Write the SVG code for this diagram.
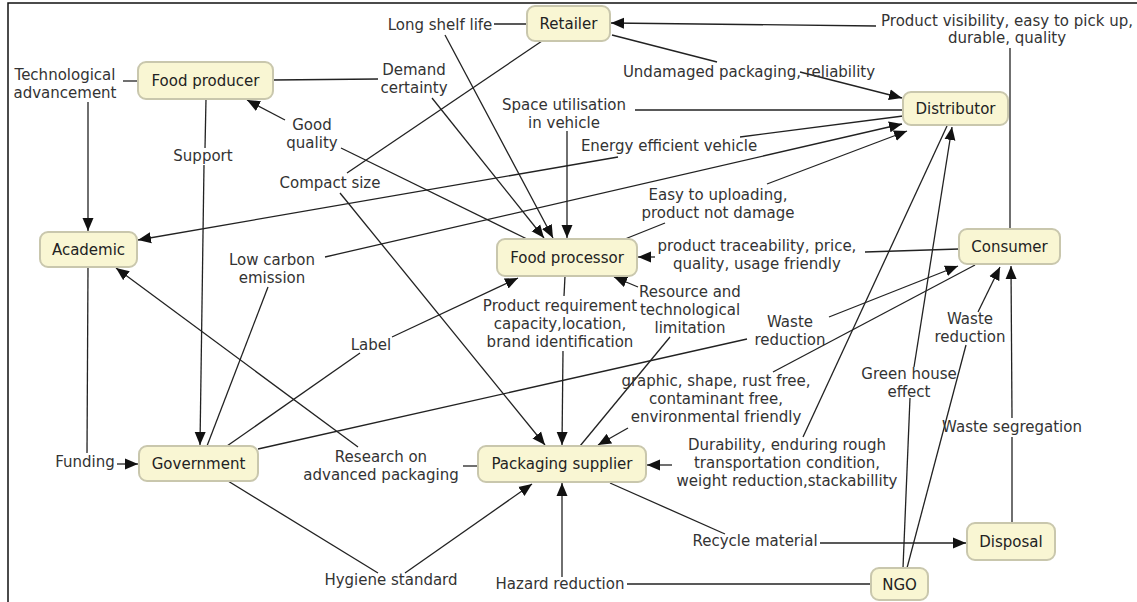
<svg xmlns="http://www.w3.org/2000/svg" width="1137" height="602" viewBox="0 0 1137 602">
<style>
.node rect{fill:#f9f6d3;stroke:#c9c7ad;stroke-width:2}
.node text{font-family:"DejaVu Sans",Verdana,sans-serif;font-size:15px;fill:#222;text-anchor:middle}
.lbl{font-family:"DejaVu Sans",Verdana,sans-serif;font-size:15px;fill:#333;text-anchor:middle}
#connectors line{stroke:#222;stroke-width:1.3;fill:none}
#connectors .a{marker-end:url(#arr)}
</style>
<defs>
<marker id="arr" markerUnits="userSpaceOnUse" markerWidth="14" markerHeight="12" refX="13" refY="6" orient="auto" viewBox="0 0 14 12">
<path d="M0,0.5 L13,6 L0,11.5 Z" fill="#111"/>
</marker>
</defs>
<rect x="0" y="0" width="1137" height="602" fill="#fff"/>
<path d="M8,602 V3 H1137" fill="none" stroke="#111" stroke-width="1.5"/>

<g id="connectors">
<line x1="273" y1="80" x2="378" y2="79"/>
<line class="a" x1="432" y1="98" x2="544" y2="238"/>
<line x1="527" y1="24" x2="494" y2="24"/>
<line class="a" x1="445" y1="35" x2="553" y2="238"/>
<line x1="542" y1="41" x2="347" y2="173"/>
<line class="a" x1="340" y1="193" x2="545" y2="445"/>
<line x1="527" y1="239" x2="341" y2="148"/>
<line class="a" x1="285" y1="120" x2="247" y2="100"/>
<line x1="903" y1="110" x2="635" y2="110"/>
<line class="a" x1="567" y1="131" x2="567" y2="238"/>
<line x1="903" y1="116" x2="740" y2="137"/>
<line class="a" x1="618" y1="157" x2="138" y2="240"/>
<line x1="207" y1="446" x2="268" y2="287"/>
<line class="a" x1="325" y1="257" x2="902" y2="124"/>
<line x1="138" y1="81" x2="123" y2="81"/>
<line class="a" x1="88" y1="102" x2="88" y2="231"/>
<line x1="206" y1="99" x2="205" y2="148"/>
<line class="a" x1="204" y1="165" x2="200" y2="445"/>
<line x1="88" y1="267" x2="87" y2="453"/>
<line class="a" x1="117" y1="464" x2="138" y2="464"/>
<line x1="625" y1="239" x2="665" y2="223"/>
<line class="a" x1="767" y1="184" x2="907" y2="131"/>
<line x1="612" y1="35" x2="717" y2="62"/>
<line class="a" x1="800" y1="72" x2="902" y2="98"/>
<line x1="1010" y1="229" x2="1010" y2="48"/>
<line class="a" x1="876" y1="26" x2="611" y2="23"/>
<line x1="959" y1="249" x2="865" y2="252"/>
<line class="a" x1="655" y1="257" x2="638" y2="257"/>
<line x1="227" y1="446" x2="360" y2="353"/>
<line class="a" x1="392" y1="337" x2="518" y2="278"/>
<line x1="580" y1="446" x2="670" y2="337"/>
<line class="a" x1="638" y1="287" x2="614" y2="277"/>
<line x1="258" y1="449" x2="747" y2="339"/>
<line class="a" x1="829" y1="317" x2="958" y2="266"/>
<line x1="907" y1="568" x2="966" y2="345"/>
<line class="a" x1="978" y1="312" x2="1000" y2="267"/>
<line x1="1012" y1="523" x2="1012" y2="437"/>
<line class="a" x1="1012" y1="418" x2="1011" y2="266"/>
<line x1="903" y1="568" x2="910" y2="398"/>
<line class="a" x1="914" y1="367" x2="952" y2="127"/>
<line x1="478" y1="466" x2="463" y2="466"/>
<line class="a" x1="358" y1="447" x2="116" y2="268"/>
<line x1="228" y1="481" x2="378" y2="573"/>
<line class="a" x1="405" y1="573" x2="532" y2="484"/>
<line x1="871" y1="584" x2="627" y2="584"/>
<line class="a" x1="562" y1="577" x2="562" y2="483"/>
<line x1="610" y1="483" x2="725" y2="534"/>
<line class="a" x1="820" y1="543" x2="966" y2="543"/>
<line x1="565" y1="276" x2="564" y2="296"/>
<line class="a" x1="563" y1="351" x2="562" y2="445"/>
<line x1="975" y1="265" x2="773" y2="372"/>
<line class="a" x1="628" y1="428" x2="598" y2="445"/>
<line x1="947" y1="126" x2="803" y2="437"/>
<line class="a" x1="672" y1="465" x2="647" y2="465"/>
</g>

<g id="labels">
<text class="lbl" x="65" y="80">Technological</text>
<text class="lbl" x="65" y="98">advancement</text>
<text class="lbl" x="414" y="75">Demand</text>
<text class="lbl" x="414" y="93">certainty</text>
<text class="lbl" x="440" y="30">Long shelf life</text>
<text class="lbl" x="312" y="130">Good</text>
<text class="lbl" x="312" y="148">quality</text>
<text class="lbl" x="203" y="161">Support</text>
<text class="lbl" x="330" y="188">Compact size</text>
<text class="lbl" x="564" y="110">Space utilisation</text>
<text class="lbl" x="564" y="128">in vehicle</text>
<text class="lbl" x="669" y="151">Energy efficient vehicle</text>
<text class="lbl" x="749" y="77">Undamaged packaging, reliability</text>
<text class="lbl" x="1007" y="26">Product visibility, easy to pick up,</text>
<text class="lbl" x="1007" y="43">durable, quality</text>
<text class="lbl" x="718" y="200">Easy to uploading,</text>
<text class="lbl" x="718" y="218">product not damage</text>
<text class="lbl" x="272" y="265">Low carbon</text>
<text class="lbl" x="272" y="283">emission</text>
<text class="lbl" x="757" y="251">product traceability, price,</text>
<text class="lbl" x="757" y="269">quality, usage friendly</text>
<text class="lbl" x="371" y="350">Label</text>
<text class="lbl" x="560" y="311">Product requirement</text>
<text class="lbl" x="560" y="329">capacity,location,</text>
<text class="lbl" x="560" y="347">brand identification</text>
<text class="lbl" x="690" y="297">Resource and</text>
<text class="lbl" x="690" y="315">technological</text>
<text class="lbl" x="690" y="333">limitation</text>
<text class="lbl" x="790" y="327">Waste</text>
<text class="lbl" x="790" y="345">reduction</text>
<text class="lbl" x="970" y="324">Waste</text>
<text class="lbl" x="970" y="342">reduction</text>
<text class="lbl" x="716" y="386">graphic, shape, rust free,</text>
<text class="lbl" x="716" y="404">contaminant free,</text>
<text class="lbl" x="716" y="422">environmental friendly</text>
<text class="lbl" x="787" y="450">Durability, enduring rough</text>
<text class="lbl" x="787" y="468">transportation condition,</text>
<text class="lbl" x="787" y="486">weight reduction,stackabillity</text>
<text class="lbl" x="909" y="379">Green house</text>
<text class="lbl" x="909" y="397">effect</text>
<text class="lbl" x="1012" y="432">Waste segregation</text>
<text class="lbl" x="85" y="467">Funding</text>
<text class="lbl" x="381" y="462">Research on</text>
<text class="lbl" x="381" y="480">advanced packaging</text>
<text class="lbl" x="391" y="585">Hygiene standard</text>
<text class="lbl" x="560" y="589">Hazard reduction</text>
<text class="lbl" x="755" y="546">Recycle material</text>
</g>

<g id="food-producer" class="node"><rect x="138" y="62" width="135" height="37" rx="8"/><text x="205.5" y="86">Food producer</text></g>
<g id="retailer" class="node"><rect x="527" y="6" width="83" height="35" rx="8"/><text x="568.5" y="29">Retailer</text></g>
<g id="distributor" class="node"><rect x="903" y="92" width="105" height="33" rx="8"/><text x="955.5" y="114">Distributor</text></g>
<g id="academic" class="node"><rect x="40" y="232" width="97" height="35" rx="8"/><text x="88.5" y="255">Academic</text></g>
<g id="food-processor" class="node"><rect x="497" y="239" width="140" height="37" rx="8"/><text x="567" y="263">Food processor</text></g>
<g id="consumer" class="node"><rect x="959" y="229" width="101" height="35" rx="8"/><text x="1009.5" y="252">Consumer</text></g>
<g id="government" class="node"><rect x="139" y="446" width="119" height="35" rx="8"/><text x="198.5" y="469">Government</text></g>
<g id="packaging-supplier" class="node"><rect x="478" y="446" width="168" height="36" rx="8"/><text x="562" y="469">Packaging supplier</text></g>
<g id="disposal" class="node"><rect x="967" y="523" width="88" height="37" rx="8"/><text x="1011" y="547">Disposal</text></g>
<g id="ngo" class="node"><rect x="871" y="568" width="57" height="32" rx="8"/><text x="899.5" y="590">NGO</text></g>
</svg>
